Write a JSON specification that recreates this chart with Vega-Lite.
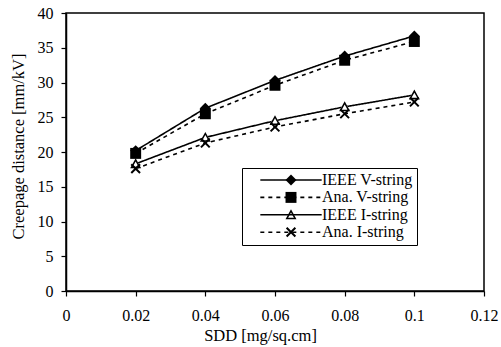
{
  "$schema": "https://vega.github.io/schema/vega-lite/v6.json",
  "width": 418,
  "height": 278,
  "autosize": "none",
  "padding": {"left": 66, "top": 13, "right": 17, "bottom": 56},
  "background": "white",
  "config": {
    "font": "Liberation Serif",
    "view": {"stroke": "black", "strokeWidth": 1.5},
    "axis": {
      "grid": false,
      "domainColor": "black",
      "domainWidth": 1.5,
      "tickColor": "black",
      "tickWidth": 1.2,
      "tickSize": 5,
      "labelFont": "Liberation Serif",
      "labelFontSize": 16,
      "labelColor": "black",
      "titleFont": "Liberation Serif",
      "titleFontSize": 16.5,
      "titleFontWeight": "normal",
      "titleColor": "black"
    }
  },
  "data": {
    "values": [
      {"sdd": 0.02, "distance": 20.2, "series": "IEEE V-string"},
      {"sdd": 0.04, "distance": 26.3, "series": "IEEE V-string"},
      {"sdd": 0.06, "distance": 30.3, "series": "IEEE V-string"},
      {"sdd": 0.08, "distance": 33.8, "series": "IEEE V-string"},
      {"sdd": 0.1, "distance": 36.7, "series": "IEEE V-string"},
      {"sdd": 0.02, "distance": 19.8, "series": "Ana. V-string"},
      {"sdd": 0.04, "distance": 25.5, "series": "Ana. V-string"},
      {"sdd": 0.06, "distance": 29.6, "series": "Ana. V-string"},
      {"sdd": 0.08, "distance": 33.2, "series": "Ana. V-string"},
      {"sdd": 0.1, "distance": 35.9, "series": "Ana. V-string"},
      {"sdd": 0.02, "distance": 18.3, "series": "IEEE I-string"},
      {"sdd": 0.04, "distance": 22.1, "series": "IEEE I-string"},
      {"sdd": 0.06, "distance": 24.5, "series": "IEEE I-string"},
      {"sdd": 0.08, "distance": 26.5, "series": "IEEE I-string"},
      {"sdd": 0.1, "distance": 28.2, "series": "IEEE I-string"},
      {"sdd": 0.02, "distance": 17.6, "series": "Ana. I-string"},
      {"sdd": 0.04, "distance": 21.3, "series": "Ana. I-string"},
      {"sdd": 0.06, "distance": 23.6, "series": "Ana. I-string"},
      {"sdd": 0.08, "distance": 25.5, "series": "Ana. I-string"},
      {"sdd": 0.1, "distance": 27.2, "series": "Ana. I-string"}
    ]
  },
  "encoding": {
    "x": {
      "field": "sdd",
      "type": "quantitative",
      "title": "SDD [mg/sq.cm]",
      "scale": {"domain": [0, 0.12], "nice": false, "zero": false},
      "axis": {"values": [0, 0.02, 0.04, 0.06, 0.08, 0.1, 0.12], "format": ".2~f", "labelPadding": 11, "titlePadding": 4, "titleX": 194, "labelFlush": false}
    },
    "y": {
      "field": "distance",
      "type": "quantitative",
      "title": "Creepage distance [mm/kV]",
      "scale": {"domain": [0, 40], "nice": false},
      "axis": {"values": [0, 5, 10, 15, 20, 25, 30, 35, 40], "labelPadding": 8, "titlePadding": 11, "titleY": 133, "labelFlush": false}
    }
  },
  "layer": [
    {
      "mark": {"type": "line", "color": "black", "strokeWidth": 1.6},
      "encoding": {
        "strokeDash": {
          "field": "series",
          "type": "nominal",
          "sort": ["IEEE V-string", "Ana. V-string", "IEEE I-string", "Ana. I-string"],
          "scale": {"range": [[1, 0], [4, 4], [1, 0], [4, 4]]},
          "legend": {
            "orient": "none",
            "legendX": 176,
            "legendY": 155,
            "title": null,
            "symbolType": "M-5.6,0H5.6",
            "symbolSize": 120,
            "symbolOffset": 37,
            "symbolStrokeWidth": 1.6,
            "symbolStrokeColor": "black",
            "symbolFillColor": "transparent",
            "labelFont": "Liberation Serif",
            "labelFontSize": 16,
            "labelColor": "black",
            "labelOffset": 23,
            "rowPadding": 1.4,
            "padding": 4,
            "strokeColor": "black",
            "fillColor": "white",
            "zindex": 1
          }
        }
      }
    },
    {
      "transform": [{"filter": {"field": "series", "equal": "IEEE I-string"}}],
      "mark": {"type": "point", "filled": true, "color": "white", "size": 120, "opacity": 1, "shape": "M0,-1L1,0.8L-1,0.8Z"}
    },
    {
      "mark": {"type": "point", "filled": true, "color": "black", "size": 120, "opacity": 1},
      "encoding": {
        "shape": {
          "field": "series",
          "type": "nominal",
          "scale": {
            "domain": ["IEEE V-string", "Ana. V-string", "IEEE I-string", "Ana. I-string"],
            "range": [
              "diamond",
              "square",
              "M0,-1L1,0.8L-1,0.8ZM0,-0.43L-0.53,0.52L0.53,0.52Z",
              "M-0.67,-0.93L0.93,0.67L0.67,0.93L-0.93,-0.67ZM-0.93,0.67L0.67,-0.93L0.93,-0.67L-0.67,0.93Z"
            ]
          },
          "legend": {
            "orient": "none",
            "legendX": 176,
            "legendY": 155,
            "title": null,
            "symbolSize": 120,
            "symbolOffset": 37,
            "symbolFillColor": "black",
            "symbolStrokeWidth": 0,
            "labelFont": "Liberation Serif",
            "labelFontSize": 16,
            "labelExpr": "' '",
            "labelOffset": 23,
            "rowPadding": 1.4,
            "padding": 4,
            "zindex": 5
          }
        }
      }
    }
  ]
}
